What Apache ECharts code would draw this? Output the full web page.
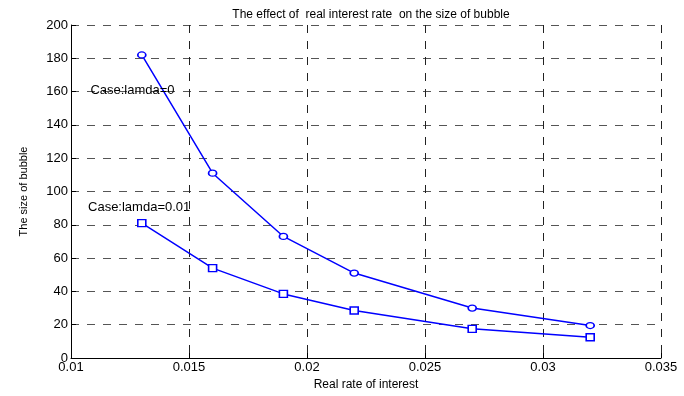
<!DOCTYPE html>
<html>
<head>
<meta charset="utf-8">
<script src="https://cdn.jsdelivr.net/npm/echarts@6/dist/echarts.min.js"></script>
<style>
	html, body { margin: 0; padding: 0; background: #fff; }
	#chart { width: 684px; height: 396px; }
</style>
</head>
<body>
<div id="chart"></div>
<script>
// 利率数据
var rates = [0.013, 0.016, 0.019, 0.022, 0.027, 0.032];
var bubbleLamda0 = [182, 111, 73, 51, 30, 19.5];
var bubbleLamda001 = [81, 54, 38.5, 28.5, 17.5, 12.5];
var xTicks = { min: 0.01, max: 0.035, step: 0.005 };
var yTicks = { min: 0, max: 200, step: 20 };

function pairs(xs, ys) {
	var out = [];
	for (var i = 0; i < xs.length; i++) {
		out.push([xs[i], ys[i]]);
	}
	return out;
}

var font = "Liberation Sans";
var myChart = echarts.init(document.getElementById("chart"));
var option = {
	animation: false,
	title: {
		text: "The effect of  real interest rate  on the size of bubble",
		left: 366,
		top: 4,
		textAlign: "center",
		textStyle: { fontFamily: font, fontSize: 12, fontWeight: "normal", color: "#000" }
	},
	grid: { left: 71, right: 23, top: 25, bottom: 32 },
	xAxis: {
		type: "value",
		min: xTicks.min,
		max: xTicks.max,
		interval: xTicks.step,
		name: "Real rate of interest",
		nameLocation: "middle",
		nameGap: 21,
		nameTextStyle: { fontFamily: font, fontSize: 12, color: "#000" },
		axisLine: { lineStyle: { color: "#000", width: 1 } },
		axisTick: { inside: true, length: 5, lineStyle: { color: "#000" } },
		axisLabel: {
			fontFamily: font, fontSize: 13, color: "#000", margin: 3,
			formatter: function(v) { return String(parseFloat(v.toFixed(4))); }
		},
		splitLine: { show: true, lineStyle: { color: "#222", type: [8, 8], width: 1 } }
	},
	yAxis: {
		type: "value",
		min: yTicks.min,
		max: yTicks.max,
		interval: yTicks.step,
		name: "The size of bubble",
		nameLocation: "middle",
		nameGap: 42,
		nameTextStyle: { fontFamily: font, fontSize: 11, color: "#000" },
		axisLine: { show: true, lineStyle: { color: "#000", width: 1 } },
		axisTick: { show: true, inside: true, length: 5, lineStyle: { color: "#000" } },
		axisLabel: { fontFamily: font, fontSize: 13, color: "#000", margin: 3 },
		splitLine: { show: true, lineStyle: { color: "#555", type: [8, 8], width: 1 } }
	},
	series: [{
		name: "lamda=0",
		type: "line",
		data: pairs(rates, bubbleLamda0),
		symbol: "circle",
		symbolSize: [8, 6],
		showAllSymbol: true,
		lineStyle: { color: "#0000ff", width: 1.5 },
		itemStyle: { color: "#fff", borderColor: "#0000ff", borderWidth: 1.5 },
		markPoint: {
			symbol: "circle",
			symbolSize: 1,
			itemStyle: { color: "rgba(0,0,0,0)" },
			label: { show: true, position: "right", distance: 0, formatter: "Case:lamda=0", fontFamily: font, fontSize: 13, color: "#000" },
			data: [{ coord: [0.0108, 160.5] }]
		}
	}, {
		name: "lamda=0.01",
		type: "line",
		data: pairs(rates, bubbleLamda001),
		symbol: "rect",
		symbolSize: [8, 7],
		showAllSymbol: true,
		lineStyle: { color: "#0000ff", width: 1.5 },
		itemStyle: { color: "#fff", borderColor: "#0000ff", borderWidth: 1.5 },
		markPoint: {
			symbol: "circle",
			symbolSize: 1,
			itemStyle: { color: "rgba(0,0,0,0)" },
			label: { show: true, position: "right", distance: 0, formatter: "Case:lamda=0.01", fontFamily: font, fontSize: 13, color: "#000" },
			data: [{ coord: [0.0107, 90.5] }]
		}
	}]
};
myChart.setOption(option);
</script>
</body>
</html>
